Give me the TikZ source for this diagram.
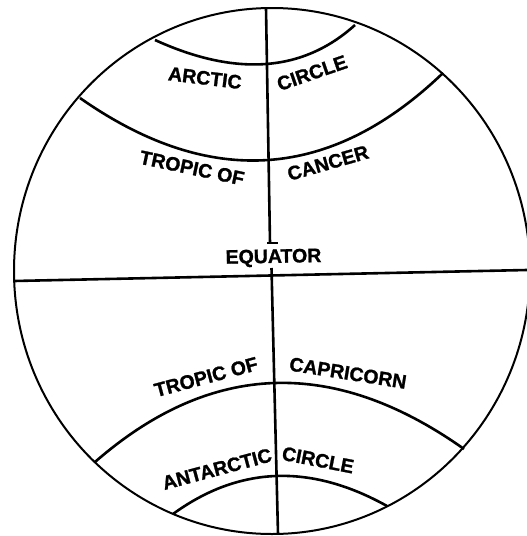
\documentclass[tikz,border=0pt]{standalone}
\usepackage{fontspec}
\setmainfont[FakeBold=1.2]{Liberation Sans}
\begin{document}
\begin{tikzpicture}[x=1pt,y=-1pt,
  rim/.style={line width=2pt},
  latline/.style={line width=2.6pt},
  lbl/.style={inner sep=0pt, font=\bfseries\fontsize{19.5}{20}\selectfont}]
\useasboundingbox (0,0) rectangle (527,536);
% globe outline (runs past the right edge)
\begin{scope}
  \clip (0,0) rectangle (527,536);
  \draw[rim] (272,271) ellipse [x radius=258, y radius=263];
\end{scope}
% key points
\coordinate (top) at (266,8);
\coordinate (upEnd) at (270,243);
\coordinate (loStart) at (271.5,268);
\coordinate (bottom) at (278,534);
\coordinate (eqL) at (14,281);
\coordinate (eqR) at (527,270);
\coordinate (arcL) at (155,40);
\coordinate (arcR) at (355,25);
\coordinate (canL) at (80,98);
\coordinate (canR) at (443,73);
\coordinate (capL) at (95,462);
\coordinate (capR) at (464,449);
\coordinate (antL) at (173,514);
\coordinate (antR) at (387,506);
% meridian
\draw[latline] (top) -- (upEnd);
\draw[line width=1.6pt] (267,243) -- (278,243);
\draw[latline] (loStart) -- (bottom);
% equator
\draw[latline] (eqL) -- (eqR);
% parallels
\draw[latline] (arcL) .. controls (236.3,77) and (303,72) .. (arcR);
\draw[latline] (canL) .. controls (209.7,189) and (330.7,180.7) .. (canR);
\draw[latline] (capL) .. controls (210.7,361) and (333.7,356.7) .. (capR);
\draw[latline] (antL) .. controls (239,466) and (310.3,463.3) .. (antR);
% labels
\node[lbl, rotate=-7] (t1) at (205,78) {ARCTIC};
\node[lbl, rotate=19] (t2) at (312,73) {CIRCLE};
\node[lbl, rotate=-12] (t3) at (192,168) {TROPIC OF};
\node[lbl, rotate=16] (t4) at (328,163) {CANCER};
\node[lbl, rotate=1] (t5) at (273.5,258) {EQUATOR};
\node[lbl, rotate=15] (t6) at (206,377) {TROPIC OF};
\node[lbl, rotate=-9] (t7) at (348,373) {CAPRICORN};
\node[lbl, rotate=15] (t8) at (217,469) {ANTARCTIC};
\node[lbl, rotate=-11] (t9) at (318,460) {CIRCLE};
\end{tikzpicture}
\end{document}
